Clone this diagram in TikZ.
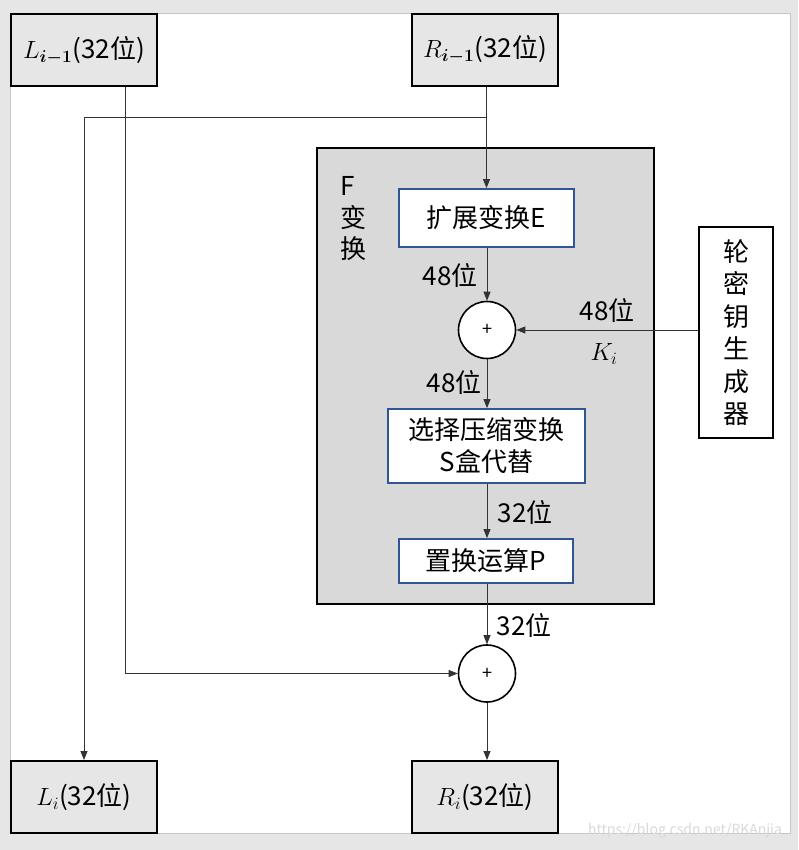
\documentclass[tikz,border=0pt]{standalone}
\usepackage{bm}
\usepackage{fontspec}
\setmainfont{Noto Sans CJK SC}
\usetikzlibrary{arrows.meta}
\definecolor{outerbg}{HTML}{E6E6E6}
\definecolor{regbox}{HTML}{E6E6E6}
\definecolor{fbox}{HTML}{D9D9D9}
\definecolor{bluebd}{HTML}{2F5597}
\definecolor{conn}{HTML}{333333}
\begin{document}
\begin{tikzpicture}[x=1pt,y=-1pt,
  lbl/.style={font=\fontsize{26}{30}\selectfont, inner sep=0pt},
  regnode/.style={draw=black, line width=2pt, fill=regbox, minimum width=146pt, minimum height=72pt, inner sep=0pt, font=\fontsize{26}{30}\selectfont},
  opbox/.style={draw=bluebd, line width=1.8pt, fill=white, inner sep=0pt, font=\fontsize{26}{30}\selectfont, align=center},
  xorc/.style={circle, draw=black, line width=1.6pt, fill=white, minimum size=57pt, inner sep=0pt, font=\fontsize{18}{20}\selectfont},
  arr/.style={draw=conn, line width=0.9pt, -{Triangle[length=9pt,width=7pt]}},
  ln/.style={draw=conn, line width=0.9pt}
]
\useasboundingbox (0,0) rectangle (798,850);
\fill[outerbg] (0,0) rectangle (798,850);
\draw[fill=white, draw=gray!45, line width=0.8pt] (10,13) rectangle (790,833);

% F box
\node[draw=black, line width=2pt, fill=fbox, minimum width=337pt, minimum height=456pt, inner sep=0pt] (F) at (485.5,376) {};
\node[lbl, align=left, font=\fontsize{26}{31.5}\selectfont] (Ft) at (353,219) {F\\变\\换};

% registers
\node[regnode] (Lprev) at (84,50.5) {$L_{\bm{i-1}}$(32位)};
\node[regnode] (Rprev) at (485,50) {$R_{\bm{i-1}}$(32位)};
\node[regnode] (Lcur) at (84,797) {$L_{i}$(32位)};
\node[regnode] (Rcur) at (485,797) {$R_{i}$(32位)};

% operations
\node[opbox, minimum width=175pt, minimum height=58pt] (E) at (486.5,218) {扩展变换E};
\node[xorc] (X1) at (487,330) {+};
\node[opbox, minimum width=197pt, minimum height=74pt, font=\fontsize{26}{32}\selectfont] (S) at (486.5,446) {选择压缩变换\\S盒代替};
\node[opbox, minimum width=174pt, minimum height=44pt] (P) at (486,561) {置换运算P};
\node[xorc] (X2) at (487,673.5) {+};

% key generator
\node[draw=black, line width=2pt, fill=white, minimum width=74pt, minimum height=211pt, inner sep=0pt, align=center, font=\fontsize{26}{32.5}\selectfont] (K) at (736,332.5) {轮\\密\\钥\\生\\成\\器};

% connectors
\coordinate (br) at (486,117);
\coordinate (lp) at (125,0);
\draw[arr] (Rprev.south -| E.north) -- (E.north);
\draw[arr] (br) -- (br -| Lcur.north) -- (Lcur.north);
\draw[arr] (Lprev.south -| lp) -- (X2.west -| lp) -- (X2.west);
\draw[arr] (E.south -| X1.north) -- (X1.north);
\draw[arr] (K.west |- X1.east) -- (X1.east);
\draw[arr] (X1.south) -- (S.north -| X1.south);
\draw[arr] (S.south -| X1.south) -- (P.north -| X1.south);
\draw[arr] (P.south -| X1.south) -- (X2.north);
\draw[arr] (X2.south) -- (Rcur.north -| X2.south);

% labels
\node[lbl] (l1) at (450,276) {48位};
\node[lbl] (l2) at (607,311) {48位};
\node[lbl, font=\fontsize{25}{30}\selectfont] (l3) at (604,354) {$K_i$};
\node[lbl] (l4) at (454,382) {48位};
\node[lbl] (l5) at (525,512) {32位};
\node[lbl] (l6) at (524,625) {32位};

% watermark
\node[inner sep=0pt, text=gray!30, font=\fontsize{14}{16}\selectfont] (wm) at (685,831) {https://blog.csdn.net/RKAnjia};
\end{tikzpicture}
\end{document}
